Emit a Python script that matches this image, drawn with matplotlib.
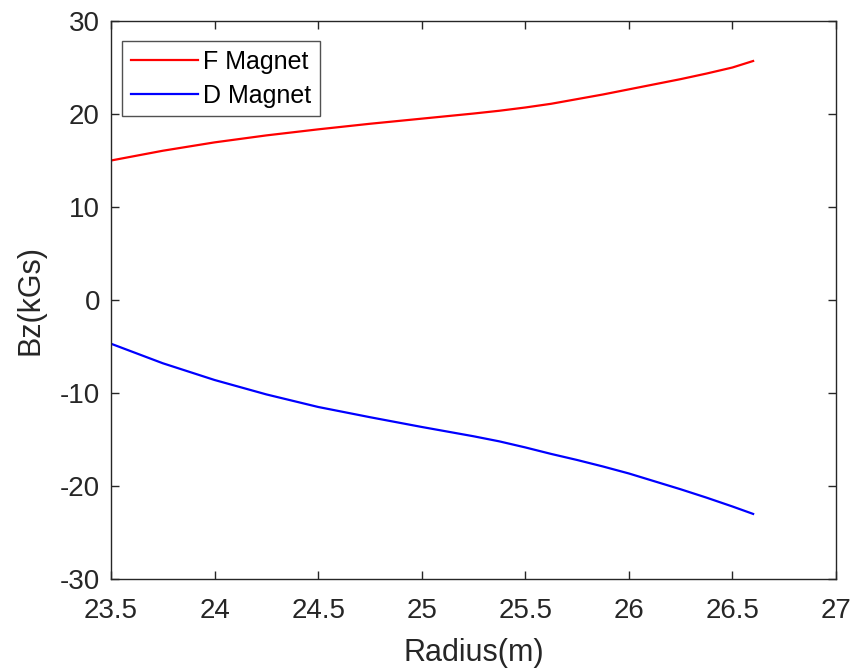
import matplotlib
matplotlib.use("Agg")
import matplotlib.pyplot as plt

# values
radius = [23.5, 23.75, 24.0, 24.25, 24.5, 24.75, 25.0, 25.25, 25.375, 25.5,
          25.625, 25.75, 25.875, 26.0, 26.125, 26.25, 26.375, 26.5, 26.6]
bz_f = [15.0, 16.05, 16.95, 17.7, 18.35, 18.95, 19.5, 20.05, 20.35, 20.7,
        21.1, 21.6, 22.1, 22.65, 23.2, 23.75, 24.35, 25.0, 25.7]
bz_d = [-4.7, -6.8, -8.6, -10.15, -11.5, -12.6, -13.65, -14.65, -15.2, -15.85,
        -16.55, -17.2, -17.9, -18.65, -19.5, -20.35, -21.25, -22.2, -23.0]

x_ticks = [23.5, 24, 24.5, 25, 25.5, 26, 26.5, 27]
x_ticklabels = ["23.5", "24", "24.5", "25", "25.5", "26", "26.5", "27"]
y_ticks = [-30, -20, -10, 0, 10, 20, 30]

AX_COLOR = "#262626"

plt.rcParams["font.family"] = ["Liberation Sans", "DejaVu Sans"]
plt.rcParams["axes.unicode_minus"] = False

fig = plt.figure(figsize=(8.5, 6.69), dpi=100)
ax = fig.add_axes([0.1306, 0.1345, 0.8529, 0.8341])

ax.plot(radius, bz_f, color="#ff0000", linewidth=1.6, label="F Magnet")
ax.plot(radius, bz_d, color="#0000ff", linewidth=1.6, label="D Magnet")

ax.set_xlim(23.5, 27)
ax.set_ylim(-30, 30)
ax.set_xticks(x_ticks)
ax.set_xticklabels(x_ticklabels)
ax.set_yticks(y_ticks)
ax.tick_params(direction="in", top=True, right=True, length=6, width=1,
               colors=AX_COLOR, labelsize=20)
ax.tick_params(axis="x", pad=14)
ax.tick_params(axis="y", pad=8)
for s in ax.spines.values():
    s.set_color(AX_COLOR)
    s.set_linewidth(1)

ax.set_xlabel("Radius(m)", fontsize=22, color=AX_COLOR)
ax.set_ylabel("Bz(kGs)", fontsize=22, color=AX_COLOR)
ax.xaxis.set_label_coords(0.5, -0.106)
ax.yaxis.set_label_coords(-0.091, 0.5)

leg = ax.legend(loc="upper left", bbox_to_anchor=(0.0152, 0.9642),
                fontsize=18, frameon=True, fancybox=False,
                edgecolor=AX_COLOR, handlelength=2.7, handletextpad=0.2,
                borderpad=0.35, labelspacing=0.4, borderaxespad=0)
leg.get_frame().set_linewidth(1)

fig.savefig("out.png", dpi=100, facecolor="white")
